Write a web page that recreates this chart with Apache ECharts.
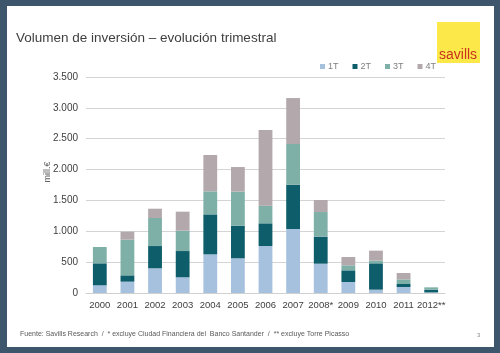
<!DOCTYPE html>
<html>
<head>
<meta charset="utf-8">
<script src="https://cdn.jsdelivr.net/npm/echarts@6/dist/echarts.min.js"></script>
<style>
  html, body { margin: 0; padding: 0; background: #3d566c; }
  #frame {
    position: absolute; left: 7px; top: 6px; width: 487px; height: 341px;
    background: #fff;
  }
  #chart { position: absolute; left: 0; top: 0; width: 500px; height: 353px; }
</style>
</head>
<body>
<div id="frame"></div>
<div id="chart"></div>
<script>
// datos (mill. €)
var years = ['2000', '2001', '2002', '2003', '2004', '2005', '2006', '2007', '2008*', '2009', '2010', '2011', '2012**']
var q1 = [124, 184, 400, 254, 626, 562, 761, 1037, 475, 178, 54, 97, 10]
var q2 = [357, 102, 361, 426, 648, 529, 368, 718, 438, 189, 427, 49, 44]
var q3 = [264, 578, 454, 330, 373, 551, 286, 659, 399, 81, 43, 75, 38]
var q4 = [0, 130, 151, 308, 589, 399, 1226, 745, 195, 135, 162, 103, 0]

var font = 'Liberation Sans, Arial, sans-serif'
var myChart = echarts.init(document.getElementById('chart'))

function serie (name, data, color) {
  return {
    name: name,
    type: 'bar',
    stack: 'total',
    barWidth: '50%',
    data: data,
    itemStyle: { color: color }
  }
}

myChart.setOption({
  animation: false,
  textStyle: { fontFamily: font },
  title: {
    text: 'Volumen de inversión – evolución trimestral',
    left: 11,
    top: 26,
    textStyle: { fontSize: 13.5, fontWeight: 'normal', color: '#3f3f3f', fontFamily: font }
  },
  legend: {
    right: 59,
    top: 57,
    itemWidth: 5,
    itemHeight: 5,
    itemGap: 14,
    icon: 'rect',
    textStyle: { fontSize: 9, color: '#7f7f7f', padding: [0, 0, 0, -2] },
    data: ['1T', '2T', '3T', '4T']
  },
  grid: {
    left: 86,
    right: 55,
    top: 77,
    bottom: 60
  },
  xAxis: {
    type: 'category',
    data: years,
    axisTick: { show: false },
    axisLine: { lineStyle: { color: '#d0d0d0' } },
    axisLabel: { color: '#404040', fontSize: 9.5, margin: 7, interval: 0 }
  },
  yAxis: {
    type: 'value',
    min: 0,
    max: 3500,
    interval: 500,
    name: 'mill.€',
    nameLocation: 'middle',
    nameGap: 34,
    nameMoveOverlap: false,
    nameTextStyle: { color: '#606060', fontSize: 9, padding: [0, 0, 0, 26] },
    axisLine: { show: false },
    axisTick: { show: false },
    axisLabel: {
      color: '#404040',
      fontSize: 10,
      margin: 8,
      formatter: function (v) { return v.toString().replace(/\B(?=(\d{3})+(?!\d))/g, '.') }
    },
    splitLine: { lineStyle: { color: '#d4d4d4' } }
  },
  series: [
    serie('1T', q1, '#a6c1de'),
    serie('2T', q2, '#0d5d6b'),
    serie('3T', q3, '#7fb0a8'),
    serie('4T', q4, '#b3a9ad')
  ],
  graphic: [
    {
      type: 'rect',
      left: 437,
      top: 22,
      shape: { width: 43, height: 41 },
      style: { fill: '#fde84a' }
    },
    {
      type: 'text',
      left: 439,
      top: 48,
      style: { text: 'savills', fill: '#c8321e', font: '14px ' + font }
    },
    {
      type: 'text',
      left: 20,
      top: 331,
      style: {
        text: 'Fuente: Savills Research  /  * excluye Ciudad Financiera del  Banco Santander  /  ** excluye Torre Picasso',
        fill: '#595959',
        font: '7px ' + font
      }
    },
    {
      type: 'text',
      left: 477,
      top: 332,
      style: { text: '3', fill: '#888', font: '6px ' + font }
    }
  ]
}, true)
</script>
</body>
</html>
